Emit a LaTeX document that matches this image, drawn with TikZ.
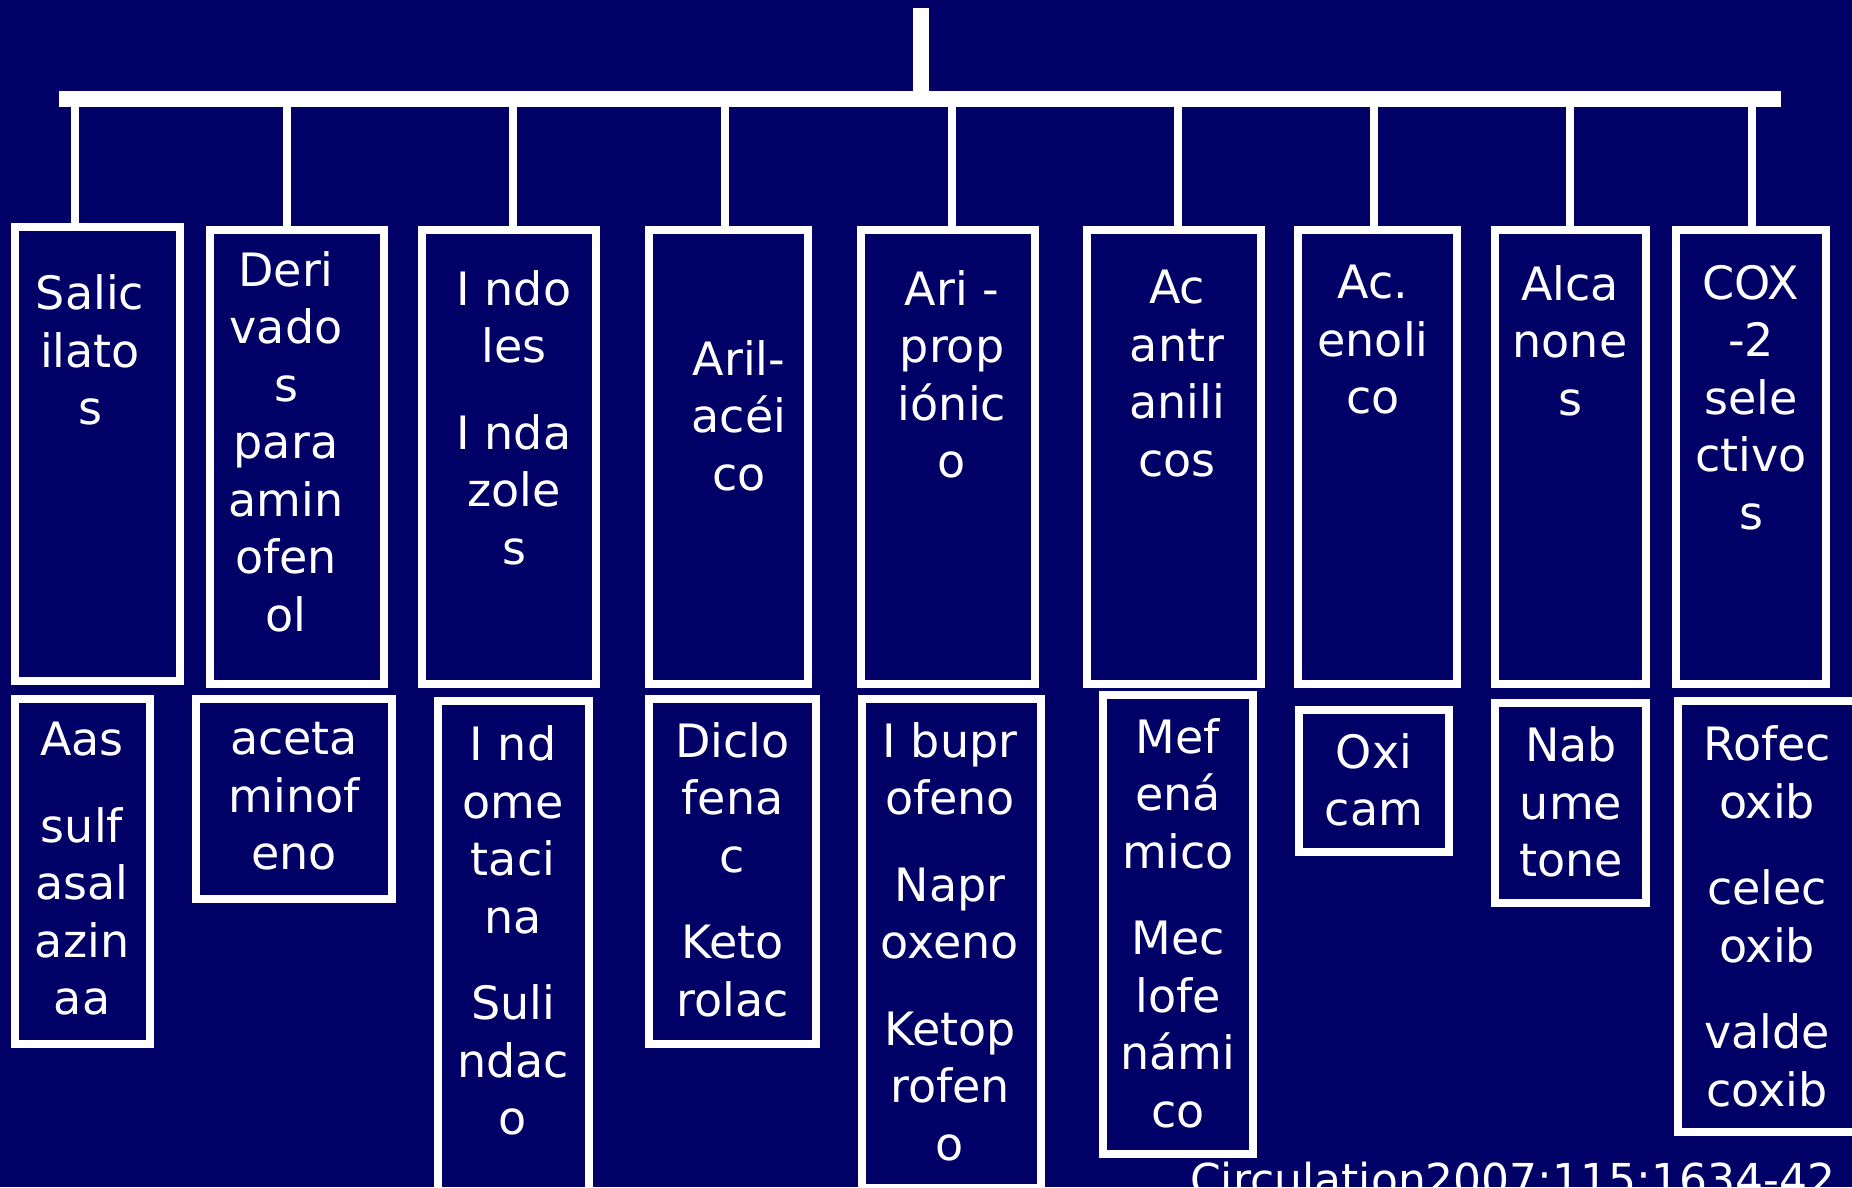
\documentclass[tikz,border=0pt]{standalone}
\usepackage{fontspec}
\setmainfont{DejaVu Sans}
\usepackage{tikz}
\usetikzlibrary{positioning,calc}
\usepackage{xcolor}
\definecolor{slidebg}{RGB}{0,0,102}
\newcommand{\boxfont}{\fontsize{46}{57.5}\selectfont}
\newcommand{\sourcefont}{\fontsize{44}{52}\selectfont}
\tikzset{
  % classification box (top row)
  catbox/.style={rectangle, draw=white, line width=8pt, inner sep=0pt},
  % drug box (bottom row)
  drugbox/.style={rectangle, draw=white, line width=8pt, inner sep=0pt},
  % text inside boxes
  boxtext/.style={text=white, align=center, anchor=north, inner sep=0pt, font=\boxfont},
  % thick trunk of the tree
  trunk/.style={draw=white, line width=16.5pt},
  % thin branch down to a box
  branch/.style={draw=white, line width=8pt},
}

\begin{document}
\begin{tikzpicture}[x=1pt, y=-1pt]

  % background and fixed page size
  \fill[slidebg] (0,0) rectangle (1852,1187);
  \useasboundingbox (0,0) rectangle (1852,1187);
  \clip (0,0) rectangle (1852,1187);

  % ═══════ TRUNK ═══════
  \coordinate (root) at (921,8.3);
  \coordinate (barL) at (59,99);
  \coordinate (barR) at (1781,99);
  \draw[trunk] (barL) -- (barR);
  \draw[trunk] (root) -- (root |- barL);

  % ═══════ CLASS BOXES ═══════
  \node[catbox, minimum width=165.3pt, minimum height=453.7pt] (salic)   at (97.35,454.2) {};
  \node[catbox, minimum width=174pt,   minimum height=454pt]   (deriv)   at (297,457) {};
  \node[catbox, minimum width=174pt,   minimum height=454pt]   (indol)   at (509,457) {};
  \node[catbox, minimum width=159pt,   minimum height=454pt]   (arilac)  at (728.5,457) {};
  \node[catbox, minimum width=173.5pt, minimum height=454pt]   (ariprop) at (947.75,457) {};
  \node[catbox, minimum width=174pt,   minimum height=454pt]   (antran)  at (1174,457) {};
  \node[catbox, minimum width=159pt,   minimum height=454pt]   (enol)    at (1377.5,457) {};
  \node[catbox, minimum width=151.5pt, minimum height=454pt]   (alcan)   at (1570.25,457) {};
  \node[catbox, minimum width=150.5pt, minimum height=454pt]   (cox)     at (1750.75,457) {};

  \node[boxtext] (salictxt)   at (90,274.5)   {Salic\\ilato\\s};
  \node[boxtext] (derivtxt)   at (286,251)    {Deri\\vado\\s\\para\\amin\\ofen\\ol};
  \node[boxtext] (indoltxt)   at (514,270)    {I ndo\\les\\[29pt]I nda\\zole\\s};
  \node[boxtext] (arilactxt)  at (739,340)    {Aril-\\acéi\\co};
  \node[boxtext] (ariproptxt) at (952,270)    {Ari -\\prop\\iónic\\o};
  \node[boxtext] (antrantxt)  at (1177,270)   {Ac\\antr\\anili\\cos};
  \node[boxtext] (enoltxt)    at (1373,265)   {Ac.\\enoli\\co};
  \node[boxtext] (alcantxt)   at (1570,265)   {Alca\\none\\s};
  \node[boxtext] (coxtxt)     at (1751,265)   {COX\\-2\\sele\\ctivo\\s};

  % ═══════ BRANCHES ═══════
  \coordinate (dsalic)   at (75,99);
  \coordinate (dderiv)   at (287,99);
  \coordinate (dindol)   at (513,99);
  \coordinate (darilac)  at (725,99);
  \coordinate (dariprop) at (952,99);
  \coordinate (dantran)  at (1178,99);
  \coordinate (denol)    at (1374,99);
  \coordinate (dalcan)   at (1570,99);
  \coordinate (dcox)     at (1752,99);
  \draw[branch] (dsalic)   -- (dsalic |- salic.north);
  \draw[branch] (dderiv)   -- (dderiv |- deriv.north);
  \draw[branch] (dindol)   -- (dindol |- indol.north);
  \draw[branch] (darilac)  -- (darilac |- arilac.north);
  \draw[branch] (dariprop) -- (dariprop |- ariprop.north);
  \draw[branch] (dantran)  -- (dantran |- antran.north);
  \draw[branch] (denol)    -- (denol |- enol.north);
  \draw[branch] (dalcan)   -- (dalcan |- alcan.north);
  \draw[branch] (dcox)     -- (dcox |- cox.north);

  % ═══════ DRUG BOXES ═══════
  \node[drugbox, minimum width=135.3pt, minimum height=344.5pt] (aas)   at (82.35,871.25) {};
  \node[drugbox, minimum width=196pt,   minimum height=200pt]   (aceta) at (294,799.25) {};
  \node[drugbox, minimum width=151pt,   minimum height=519pt]   (indom) at (513.5,960.5) {};
  \node[drugbox, minimum width=167pt,   minimum height=344.5pt] (diclo) at (732.5,871.25) {};
  \node[drugbox, minimum width=179pt,   minimum height=489pt]   (ibupr) at (951.5,943.5) {};
  \node[drugbox, minimum width=150pt,   minimum height=459pt]   (mefen) at (1178,924.5) {};
  \node[drugbox, minimum width=149.6pt, minimum height=142pt]   (oxic)  at (1373.8,781) {};
  \node[drugbox, minimum width=150.5pt, minimum height=200pt]   (nabum) at (1570.25,803.3) {};
  \node[drugbox, minimum width=202.5pt, minimum height=431pt]   (rofec) at (1778.75,916.5) {};

  \node[boxtext] (aastxt)   at (82,722)     {Aas\\[29pt]sulf\\asal\\azin\\aa};
  \node[boxtext] (acetatxt) at (294,722)    {aceta\\minof\\eno};
  \node[boxtext] (indomtxt) at (513,725.7)  {I nd\\ome\\taci\\na\\[29pt]Suli\\ndac\\o};
  \node[boxtext] (diclotxt) at (732.5,722)  {Diclo\\fena\\c\\[29pt]Keto\\rolac};
  \node[boxtext] (ibuprtxt) at (950,722)    {I bupr\\ofeno\\[29pt]Napr\\oxeno\\[29pt]Ketop\\rofen\\o};
  \node[boxtext] (mefentxt) at (1178,718)   {Mef\\ená\\mico\\[29pt]Mec\\lofe\\námi\\co};
  \node[boxtext] (oxictxt)  at (1374,733)   {Oxi\\cam};
  \node[boxtext] (nabumtxt) at (1571,726.7) {Nab\\ume\\tone};
  \node[boxtext] (rofectxt) at (1767,725.7) {Rofec\\oxib\\[29pt]celec\\oxib\\[29pt]valde\\coxib};

  % ═══════ SOURCE ═══════
  \node[text=white, inner sep=0pt, anchor=base west, font=\sourcefont] (source) at (1190,1195)
    {Circulation2007;115:1634-42};

\end{tikzpicture}
\end{document}
